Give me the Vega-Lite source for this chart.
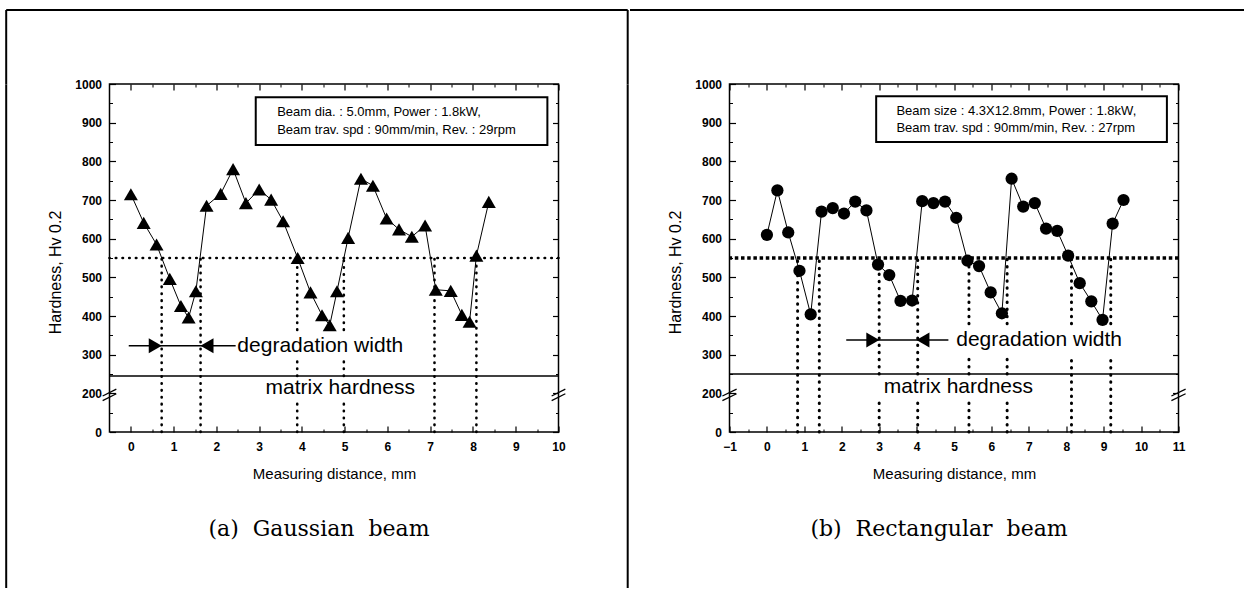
{
  "$schema": "https://vega.github.io/schema/vega-lite/v6.json",
  "background": "white",
  "padding": {"left": 4.5, "top": 8, "right": 0, "bottom": 0},
  "spacing": 0,
  "datasets": {
    "gauss": [
      {"x": 0.00, "hv": 715}, {"x": 0.30, "hv": 641}, {"x": 0.60, "hv": 585}, {"x": 0.91, "hv": 496},
      {"x": 1.17, "hv": 426}, {"x": 1.35, "hv": 396}, {"x": 1.52, "hv": 464}, {"x": 1.77, "hv": 685},
      {"x": 2.10, "hv": 716}, {"x": 2.39, "hv": 780}, {"x": 2.69, "hv": 692}, {"x": 3.00, "hv": 727},
      {"x": 3.28, "hv": 701}, {"x": 3.56, "hv": 645}, {"x": 3.90, "hv": 550}, {"x": 4.20, "hv": 461},
      {"x": 4.47, "hv": 402}, {"x": 4.65, "hv": 376}, {"x": 4.82, "hv": 464}, {"x": 5.08, "hv": 602},
      {"x": 5.38, "hv": 755}, {"x": 5.66, "hv": 737}, {"x": 5.98, "hv": 652}, {"x": 6.27, "hv": 624},
      {"x": 6.57, "hv": 605}, {"x": 6.88, "hv": 634}, {"x": 7.13, "hv": 468}, {"x": 7.48, "hv": 465},
      {"x": 7.74, "hv": 403}, {"x": 7.92, "hv": 385}, {"x": 8.08, "hv": 556}, {"x": 8.37, "hv": 695}
    ],
    "rect": [
      {"x": 0.00, "hv": 610}, {"x": 0.28, "hv": 725}, {"x": 0.57, "hv": 616}, {"x": 0.87, "hv": 517},
      {"x": 1.17, "hv": 404}, {"x": 1.46, "hv": 670}, {"x": 1.76, "hv": 679}, {"x": 2.06, "hv": 665},
      {"x": 2.36, "hv": 696}, {"x": 2.66, "hv": 673}, {"x": 2.97, "hv": 533}, {"x": 3.27, "hv": 506},
      {"x": 3.57, "hv": 439}, {"x": 3.88, "hv": 440}, {"x": 4.15, "hv": 697}, {"x": 4.45, "hv": 692},
      {"x": 4.76, "hv": 696}, {"x": 5.06, "hv": 654}, {"x": 5.36, "hv": 543}, {"x": 5.67, "hv": 529},
      {"x": 5.98, "hv": 461}, {"x": 6.28, "hv": 407}, {"x": 6.54, "hv": 755}, {"x": 6.85, "hv": 683},
      {"x": 7.16, "hv": 692}, {"x": 7.46, "hv": 626}, {"x": 7.76, "hv": 620}, {"x": 8.05, "hv": 556},
      {"x": 8.36, "hv": 485}, {"x": 8.67, "hv": 438}, {"x": 8.97, "hv": 390}, {"x": 9.24, "hv": 639},
      {"x": 9.53, "hv": 700}
    ],
    "vlinesA": [
      {"x": 0.72, "lo": 100, "hi": 550}, {"x": 1.63, "lo": 100, "hi": 550},
      {"x": 3.89, "lo": 100, "hi": 180}, {"x": 3.89, "lo": 245, "hi": 282}, {"x": 3.89, "lo": 364, "hi": 550},
      {"x": 4.98, "lo": 100, "hi": 180}, {"x": 4.98, "lo": 245, "hi": 282}, {"x": 4.98, "lo": 364, "hi": 550},
      {"x": 7.10, "lo": 100, "hi": 550}, {"x": 8.08, "lo": 100, "hi": 550}
    ],
    "vlinesB": [
      {"x": 0.82, "lo": 100, "hi": 550}, {"x": 1.40, "lo": 100, "hi": 550},
      {"x": 3.00, "lo": 100, "hi": 180}, {"x": 3.00, "lo": 250, "hi": 550},
      {"x": 4.03, "lo": 100, "hi": 180}, {"x": 4.03, "lo": 250, "hi": 550},
      {"x": 5.40, "lo": 100, "hi": 180}, {"x": 5.40, "lo": 250, "hi": 294}, {"x": 5.40, "lo": 380, "hi": 550},
      {"x": 6.42, "lo": 100, "hi": 180}, {"x": 6.42, "lo": 250, "hi": 294}, {"x": 6.42, "lo": 380, "hi": 550},
      {"x": 8.14, "lo": 100, "hi": 294}, {"x": 8.14, "lo": 380, "hi": 550},
      {"x": 9.19, "lo": 100, "hi": 294}, {"x": 9.19, "lo": 380, "hi": 550}
    ],
    "refA": [{"hv": 550, "kind": "threshold"}, {"hv": 245, "kind": "matrix"}],
    "refB": [{"hv": 550, "kind": "threshold"}, {"hv": 250, "kind": "matrix"}],
    "notesA": [
      {"x": 2.49, "hv": 323, "text": "degradation width"},
      {"x": 3.15, "hv": 213, "text": "matrix hardness"}
    ],
    "notesB": [
      {"x": 5.06, "hv": 338, "text": "degradation width"},
      {"x": 3.12, "hv": 217, "text": "matrix hardness"}
    ],
    "infoA": [
      {"x": 3.42, "hv": 928, "text": "Beam dia. : 5.0mm, Power : 1.8kW,"},
      {"x": 3.42, "hv": 880, "text": "Beam trav. spd : 90mm/min, Rev. : 29rpm"}
    ],
    "infoB": [
      {"x": 3.46, "hv": 931, "text": "Beam size : 4.3X12.8mm, Power : 1.8kW,"},
      {"x": 3.46, "hv": 886, "text": "Beam trav. spd : 90mm/min, Rev. : 27rpm"}
    ],
    "boxA": [{"x": 2.92, "x2": 9.74, "hv": 842, "hv2": 966}],
    "boxB": [{"x": 2.92, "x2": 10.69, "hv": 850, "hv2": 968}],
    "arrowA": [{"x": -0.05, "x2": 2.45, "hv": 323}],
    "arrowB": [{"x": 2.12, "x2": 4.85, "hv": 338}],
    "headsA": [{"x": 0.57, "hv": 323, "side": "start"}, {"x": 1.78, "hv": 323, "side": "end"}],
    "headsB": [{"x": 2.83, "hv": 338, "side": "start"}, {"x": 4.17, "hv": 338, "side": "end"}],
    "breaksA": [
      {"x": -0.66, "x2": -0.34, "hv": 181, "hv2": 199}, {"x": -0.66, "x2": -0.34, "hv": 193, "hv2": 211},
      {"x": 9.84, "x2": 10.16, "hv": 181, "hv2": 199}, {"x": 9.84, "x2": 10.16, "hv": 193, "hv2": 211}
    ],
    "breaksB": [
      {"x": -1.19, "x2": -0.81, "hv": 181, "hv2": 199}, {"x": -1.19, "x2": -0.81, "hv": 193, "hv2": 211},
      {"x": 10.81, "x2": 11.19, "hv": 181, "hv2": 199}, {"x": 10.81, "x2": 11.19, "hv": 193, "hv2": 211}
    ]
  },
  "hconcat": [
    {
      "width": 449,
      "height": 348,
      "resolve": {"scale": {"x": "independent", "y": "independent"}, "axis": {"x": "independent", "y": "independent"}},
      "layer": [
        {
          "data": {"name": "refA"},
          "mark": {"type": "point", "opacity": 0, "size": 0},
          "encoding": {
            "x": {"field": "hv", "type": "quantitative", "scale": {"domain": [245, 550], "range": [-103.8, 0], "nice": false, "zero": false},
                  "axis": {"orient": "top", "offset": 74.5, "domain": true, "domainColor": "black", "domainWidth": 2, "ticks": false, "labels": false, "title": null}},
            "y": {"field": "hv", "type": "quantitative", "scale": {"domain": [245, 550], "range": [0, -74.5], "nice": false, "zero": false},
                  "axis": {"orient": "left", "offset": 103.8, "domain": true, "domainColor": "black", "domainWidth": 2, "ticks": false, "labels": false, "title": null}}
          }
        },
        {
          "data": {"name": "refA"},
          "mark": {"type": "point", "opacity": 0, "size": 0},
          "encoding": {
            "x": {"field": "hv", "type": "quantitative", "scale": {"domain": [245, 550], "range": [0, 517.7], "nice": false, "zero": false},
                  "axis": {"orient": "top", "offset": 74.5, "domain": true, "domainColor": "black", "domainWidth": 2, "ticks": false, "labels": false, "title": null}},
            "y": {"field": "hv", "type": "quantitative", "scale": {"domain": [245, 550], "range": [503.5, 0], "nice": false, "zero": false},
                  "axis": {"orient": "left", "offset": 103.8, "domain": true, "domainColor": "black", "domainWidth": 2, "ticks": false, "labels": false, "title": null}}
          }
        },
        {
          "data": {"name": "refA"},
          "mark": {"type": "point", "opacity": 0, "size": 0},
          "encoding": {
            "x": {"field": "hv", "type": "quantitative", "scale": {"domain": [245, 550], "range": [0, 449], "nice": false, "zero": false}, "axis": null},
            "y": {"field": "hv", "type": "quantitative", "scale": {"domain": [245, 550], "range": [0, -74.5], "nice": false, "zero": false},
                  "axis": {"orient": "right", "offset": 68.7, "domain": true, "domainColor": "black", "domainWidth": 2, "ticks": false, "labels": false, "title": null}}
          }
        },
        {
          "data": {"name": "refA"},
          "mark": {"type": "point", "opacity": 0, "size": 0},
          "encoding": {
            "x": {"field": "hv", "type": "quantitative", "scale": {"domain": [245, 550], "range": [0, 449], "nice": false, "zero": false}, "axis": null},
            "y": {"field": "hv", "type": "quantitative", "scale": {"domain": [245, 550], "range": [503.5, 0], "nice": false, "zero": false},
                  "axis": {"orient": "right", "offset": 68.7, "domain": true, "domainColor": "black", "domainWidth": 2, "ticks": false, "labels": false, "title": null}}
          }
        },
        {
          "resolve": {"axis": {"x": "independent", "y": "independent"}},
          "layer": [
            {
              "data": {"name": "refA"},
              "transform": [{"filter": "datum.kind == 'matrix'"}],
              "mark": {"type": "rule", "color": "black", "strokeWidth": 1.5},
              "encoding": {"y": {"field": "hv", "type": "quantitative", "scale": {"domain": [100, 1000], "nice": false, "zero": false}, "axis": null}}
            },
            {
              "data": {"name": "refA"},
              "transform": [{"filter": "datum.kind == 'threshold'"}],
              "mark": {"type": "rule", "color": "black", "strokeWidth": 2.6, "strokeDash": [0.5, 6.2], "strokeCap": "round"},
              "encoding": {"y": {"field": "hv", "type": "quantitative", "scale": {"domain": [100, 1000], "nice": false, "zero": false}, "axis": null}}
            },
            {
              "data": {"name": "vlinesA"},
              "mark": {"type": "rule", "color": "black", "strokeWidth": 2.6, "strokeDash": [0.5, 6.4], "strokeCap": "round"},
              "encoding": {
                "x": {"field": "x", "type": "quantitative", "scale": {"domain": [-0.5, 10], "nice": false, "zero": false},
                      "axis": {"orient": "top", "values": [0,1,2,3,4,5,6,7,8,9,10], "labels": false, "tickSize": -6, "tickWidth": 1.2, "title": null}},
                "y": {"field": "lo", "type": "quantitative", "scale": {"domain": [100, 1000], "nice": false, "zero": false},
                      "axis": {"orient": "right", "values": [100,200,300,400,500,600,700,800,900,1000], "labels": false, "tickSize": -6, "tickWidth": 1.2, "title": null}},
                "y2": {"field": "hi"}
              }
            },
            {
              "data": {"name": "gauss"},
              "mark": {"type": "line", "color": "black", "strokeWidth": 1},
              "encoding": {
                "x": {"field": "x", "type": "quantitative", "scale": {"domain": [-0.5, 10], "nice": false, "zero": false},
                      "axis": {"orient": "bottom", "values": [0,1,2,3,4,5,6,7,8,9,10], "ticks": false, "labelPadding": 9, "labelFlush": false, "title": "Measuring distance, mm", "titleFontSize": 15, "titlePadding": 14}},
                "y": {"field": "hv", "type": "quantitative", "scale": {"domain": [100, 1000], "nice": false, "zero": false},
                      "axis": {"orient": "left", "values": [100,200,300,400,500,600,700,800,900,1000], "ticks": false, "labelPadding": 8, "labelFlush": false, "labelExpr": "datum.value == 100 ? '0' : datum.label", "format": "d", "title": "Hardness, Hv 0.2", "titleFontSize": 16, "titlePadding": 11, "titleY": 188}}
              }
            },
            {
              "data": {"name": "gauss"},
              "mark": {"type": "point", "shape": "triangle-up", "filled": true, "size": 196, "color": "black", "opacity": 1},
              "encoding": {
                "x": {"field": "x", "type": "quantitative", "scale": {"domain": [-0.5, 10], "nice": false, "zero": false},
                      "axis": {"orient": "bottom", "values": [0,1,2,3,4,5,6,7,8,9,10], "labels": false, "tickSize": -6, "tickWidth": 1.2, "title": null}},
                "y": {"field": "hv", "type": "quantitative", "scale": {"domain": [100, 1000], "nice": false, "zero": false},
                      "axis": {"orient": "left", "values": [100,200,300,400,500,600,700,800,900,1000], "labels": false, "tickSize": -6, "tickWidth": 1.2, "title": null}}
              }
            },
            {
              "data": {"name": "boxA"},
              "mark": {"type": "rect", "fill": "white", "stroke": "black", "strokeWidth": 2},
              "encoding": {
                "x": {"field": "x", "type": "quantitative", "scale": {"domain": [-0.5, 10], "nice": false, "zero": false},
                      "axis": {"orient": "bottom", "labels": false, "ticks": false, "title": "(a)\u00a0 Gaussian\u00a0 beam", "titleFont": "DejaVu Serif", "titleFontSize": 22, "titleFontWeight": "normal", "titlePadding": 86, "titleX": 209, "titleAlign": "center"}},
                "x2": {"field": "x2"},
                "y": {"field": "hv", "type": "quantitative", "scale": {"domain": [100, 1000], "nice": false, "zero": false}, "axis": null},
                "y2": {"field": "hv2"}
              }
            },
            {
              "data": {"name": "infoA"},
              "mark": {"type": "text", "align": "left", "baseline": "middle", "fontSize": 13, "font": "Liberation Sans"},
              "encoding": {
                "x": {"field": "x", "type": "quantitative", "scale": {"domain": [-0.5, 10], "nice": false, "zero": false},
                      "axis": {"orient": "top", "values": [0.5,1.5,2.5,3.5,4.5,5.5,6.5,7.5,8.5,9.5], "labels": false, "tickSize": -3, "title": null}},
                "y": {"field": "hv", "type": "quantitative", "scale": {"domain": [100, 1000], "nice": false, "zero": false},
                      "axis": {"orient": "right", "values": [150,250,350,450,550,650,750,850,950], "labels": false, "tickSize": -3, "title": null}},
                "text": {"field": "text"}
              }
            },
            {
              "data": {"name": "notesA"},
              "mark": {"type": "text", "align": "left", "baseline": "middle", "fontSize": 21, "font": "Liberation Sans"},
              "encoding": {
                "x": {"field": "x", "type": "quantitative", "scale": {"domain": [-0.5, 10], "nice": false, "zero": false},
                      "axis": {"orient": "bottom", "values": [0.5,1.5,2.5,3.5,4.5,5.5,6.5,7.5,8.5,9.5], "labels": false, "tickSize": -3, "title": null}},
                "y": {"field": "hv", "type": "quantitative", "scale": {"domain": [100, 1000], "nice": false, "zero": false},
                      "axis": {"orient": "left", "values": [150,250,350,450,550,650,750,850,950], "labels": false, "tickSize": -3, "title": null}},
                "text": {"field": "text"}
              }
            },
            {
              "data": {"name": "arrowA"},
              "mark": {"type": "rule", "color": "black", "strokeWidth": 1.5},
              "encoding": {
                "x": {"field": "x", "type": "quantitative", "scale": {"domain": [-0.5, 10], "nice": false, "zero": false}, "axis": null},
                "x2": {"field": "x2"},
                "y": {"field": "hv", "type": "quantitative", "scale": {"domain": [100, 1000], "nice": false, "zero": false}, "axis": null}
              }
            },
            {
              "data": {"name": "headsA"},
              "mark": {"type": "point", "filled": true, "size": 225, "color": "black", "opacity": 1},
              "encoding": {
                "x": {"field": "x", "type": "quantitative", "scale": {"domain": [-0.5, 10], "nice": false, "zero": false}, "axis": null},
                "y": {"field": "hv", "type": "quantitative", "scale": {"domain": [100, 1000], "nice": false, "zero": false}, "axis": null},
                "shape": {"field": "side", "type": "nominal", "scale": {"domain": ["start", "end"], "range": ["triangle-right", "triangle-left"]}, "legend": null}
              }
            },
            {
              "data": {"name": "breaksA"},
              "mark": {"type": "rule", "color": "black", "strokeWidth": 1.3},
              "encoding": {
                "x": {"field": "x", "type": "quantitative", "scale": {"domain": [-0.5, 10], "nice": false, "zero": false}, "axis": null},
                "x2": {"field": "x2"},
                "y": {"field": "hv", "type": "quantitative", "scale": {"domain": [100, 1000], "nice": false, "zero": false}, "axis": null},
                "y2": {"field": "hv2"}
              }
            }
          ]
        }
      ]
    },
    {
      "width": 449,
      "height": 348,
      "resolve": {"scale": {"x": "independent", "y": "independent"}, "axis": {"x": "independent", "y": "independent"}},
      "layer": [
        {
          "data": {"name": "refB"},
          "mark": {"type": "point", "opacity": 0, "size": 0},
          "encoding": {
            "x": {"field": "hv", "type": "quantitative", "scale": {"domain": [250, 550], "range": [-100, 0], "nice": false, "zero": false},
                  "axis": {"orient": "top", "offset": 74.5, "domain": true, "domainColor": "black", "domainWidth": 2, "ticks": false, "labels": false, "title": null}},
            "y": {"field": "hv", "type": "quantitative", "scale": {"domain": [250, 550], "range": [348, 0], "nice": false, "zero": false}, "axis": null}
          }
        },
        {
          "data": {"name": "refB"},
          "mark": {"type": "point", "opacity": 0, "size": 0},
          "encoding": {
            "x": {"field": "hv", "type": "quantitative", "scale": {"domain": [250, 550], "range": [0, 514], "nice": false, "zero": false},
                  "axis": {"orient": "top", "offset": 74.5, "domain": true, "domainColor": "black", "domainWidth": 2, "ticks": false, "labels": false, "title": null}},
            "y": {"field": "hv", "type": "quantitative", "scale": {"domain": [250, 550], "range": [348, 0], "nice": false, "zero": false}, "axis": null}
          }
        },
        {
          "resolve": {"axis": {"x": "independent", "y": "independent"}},
          "layer": [
            {
              "data": {"name": "refB"},
              "transform": [{"filter": "datum.kind == 'matrix'"}],
              "mark": {"type": "rule", "color": "black", "strokeWidth": 1.5},
              "encoding": {"y": {"field": "hv", "type": "quantitative", "scale": {"domain": [100, 1000], "nice": false, "zero": false}, "axis": null}}
            },
            {
              "data": {"name": "refB"},
              "transform": [{"filter": "datum.kind == 'threshold'"}],
              "mark": {"type": "rule", "color": "black", "strokeWidth": 3.5, "strokeDash": [3.5, 2.7]},
              "encoding": {"y": {"field": "hv", "type": "quantitative", "scale": {"domain": [100, 1000], "nice": false, "zero": false}, "axis": null}}
            },
            {
              "data": {"name": "vlinesB"},
              "mark": {"type": "rule", "color": "black", "strokeWidth": 3, "strokeDash": [0.5, 6.6], "strokeCap": "round"},
              "encoding": {
                "x": {"field": "x", "type": "quantitative", "scale": {"domain": [-1, 11], "nice": false, "zero": false},
                      "axis": {"orient": "top", "values": [-1,0,1,2,3,4,5,6,7,8,9,10,11], "labels": false, "tickSize": -6, "tickWidth": 1.2, "title": null}},
                "y": {"field": "lo", "type": "quantitative", "scale": {"domain": [100, 1000], "nice": false, "zero": false},
                      "axis": {"orient": "right", "values": [100,200,300,400,500,600,700,800,900,1000], "labels": false, "tickSize": -6, "tickWidth": 1.2, "title": null}},
                "y2": {"field": "hi"}
              }
            },
            {
              "data": {"name": "rect"},
              "mark": {"type": "line", "color": "black", "strokeWidth": 1},
              "encoding": {
                "x": {"field": "x", "type": "quantitative", "scale": {"domain": [-1, 11], "nice": false, "zero": false},
                      "axis": {"orient": "bottom", "values": [-1,0,1,2,3,4,5,6,7,8,9,10,11], "ticks": false, "labelPadding": 9, "labelFlush": false, "title": "Measuring distance, mm", "titleFontSize": 15, "titlePadding": 14}},
                "y": {"field": "hv", "type": "quantitative", "scale": {"domain": [100, 1000], "nice": false, "zero": false},
                      "axis": {"orient": "left", "values": [100,200,300,400,500,600,700,800,900,1000], "ticks": false, "labelPadding": 8, "labelFlush": false, "labelExpr": "datum.value == 100 ? '0' : datum.label", "format": "d", "title": "Hardness, Hv 0.2", "titleFontSize": 16, "titlePadding": 11, "titleY": 188}}
              }
            },
            {
              "data": {"name": "rect"},
              "mark": {"type": "point", "shape": "circle", "filled": true, "size": 150, "color": "black", "opacity": 1},
              "encoding": {
                "x": {"field": "x", "type": "quantitative", "scale": {"domain": [-1, 11], "nice": false, "zero": false},
                      "axis": {"orient": "bottom", "values": [-1,0,1,2,3,4,5,6,7,8,9,10,11], "labels": false, "tickSize": -6, "tickWidth": 1.2, "title": null}},
                "y": {"field": "hv", "type": "quantitative", "scale": {"domain": [100, 1000], "nice": false, "zero": false},
                      "axis": {"orient": "left", "values": [100,200,300,400,500,600,700,800,900,1000], "labels": false, "tickSize": -6, "tickWidth": 1.2, "title": null}}
              }
            },
            {
              "data": {"name": "boxB"},
              "mark": {"type": "rect", "fill": "white", "stroke": "black", "strokeWidth": 2},
              "encoding": {
                "x": {"field": "x", "type": "quantitative", "scale": {"domain": [-1, 11], "nice": false, "zero": false},
                      "axis": {"orient": "bottom", "labels": false, "ticks": false, "title": "(b)\u00a0 Rectangular\u00a0 beam", "titleFont": "DejaVu Serif", "titleFontSize": 22, "titleFontWeight": "normal", "titlePadding": 86, "titleX": 209, "titleAlign": "center"}},
                "x2": {"field": "x2"},
                "y": {"field": "hv", "type": "quantitative", "scale": {"domain": [100, 1000], "nice": false, "zero": false}, "axis": null},
                "y2": {"field": "hv2"}
              }
            },
            {
              "data": {"name": "infoB"},
              "mark": {"type": "text", "align": "left", "baseline": "middle", "fontSize": 13, "font": "Liberation Sans"},
              "encoding": {
                "x": {"field": "x", "type": "quantitative", "scale": {"domain": [-1, 11], "nice": false, "zero": false},
                      "axis": {"orient": "top", "values": [-0.5,0.5,1.5,2.5,3.5,4.5,5.5,6.5,7.5,8.5,9.5,10.5], "labels": false, "tickSize": -3, "title": null}},
                "y": {"field": "hv", "type": "quantitative", "scale": {"domain": [100, 1000], "nice": false, "zero": false},
                      "axis": {"orient": "right", "values": [150,250,350,450,550,650,750,850,950], "labels": false, "tickSize": -3, "title": null}},
                "text": {"field": "text"}
              }
            },
            {
              "data": {"name": "notesB"},
              "mark": {"type": "text", "align": "left", "baseline": "middle", "fontSize": 21, "font": "Liberation Sans"},
              "encoding": {
                "x": {"field": "x", "type": "quantitative", "scale": {"domain": [-1, 11], "nice": false, "zero": false},
                      "axis": {"orient": "bottom", "values": [-0.5,0.5,1.5,2.5,3.5,4.5,5.5,6.5,7.5,8.5,9.5,10.5], "labels": false, "tickSize": -3, "title": null}},
                "y": {"field": "hv", "type": "quantitative", "scale": {"domain": [100, 1000], "nice": false, "zero": false},
                      "axis": {"orient": "left", "values": [150,250,350,450,550,650,750,850,950], "labels": false, "tickSize": -3, "title": null}},
                "text": {"field": "text"}
              }
            },
            {
              "data": {"name": "arrowB"},
              "mark": {"type": "rule", "color": "black", "strokeWidth": 1.5},
              "encoding": {
                "x": {"field": "x", "type": "quantitative", "scale": {"domain": [-1, 11], "nice": false, "zero": false}, "axis": null},
                "x2": {"field": "x2"},
                "y": {"field": "hv", "type": "quantitative", "scale": {"domain": [100, 1000], "nice": false, "zero": false}, "axis": null}
              }
            },
            {
              "data": {"name": "headsB"},
              "mark": {"type": "point", "filled": true, "size": 225, "color": "black", "opacity": 1},
              "encoding": {
                "x": {"field": "x", "type": "quantitative", "scale": {"domain": [-1, 11], "nice": false, "zero": false}, "axis": null},
                "y": {"field": "hv", "type": "quantitative", "scale": {"domain": [100, 1000], "nice": false, "zero": false}, "axis": null},
                "shape": {"field": "side", "type": "nominal", "scale": {"domain": ["start", "end"], "range": ["triangle-right", "triangle-left"]}, "legend": null}
              }
            },
            {
              "data": {"name": "breaksB"},
              "mark": {"type": "rule", "color": "black", "strokeWidth": 1.3},
              "encoding": {
                "x": {"field": "x", "type": "quantitative", "scale": {"domain": [-1, 11], "nice": false, "zero": false}, "axis": null},
                "x2": {"field": "x2"},
                "y": {"field": "hv", "type": "quantitative", "scale": {"domain": [100, 1000], "nice": false, "zero": false}, "axis": null},
                "y2": {"field": "hv2"}
              }
            }
          ]
        }
      ]
    }
  ],
  "config": {
    "view": {"stroke": "black", "strokeWidth": 1.5},
    "axis": {
      "grid": false, "domain": false,
      "labelFont": "Liberation Sans", "titleFont": "Liberation Sans",
      "labelFontSize": 12, "labelFontWeight": "bold", "labelColor": "black",
      "titleFontSize": 13, "titleFontWeight": "normal", "titleColor": "black",
      "tickColor": "black"
    },
    "text": {"color": "black"}
  }
}
